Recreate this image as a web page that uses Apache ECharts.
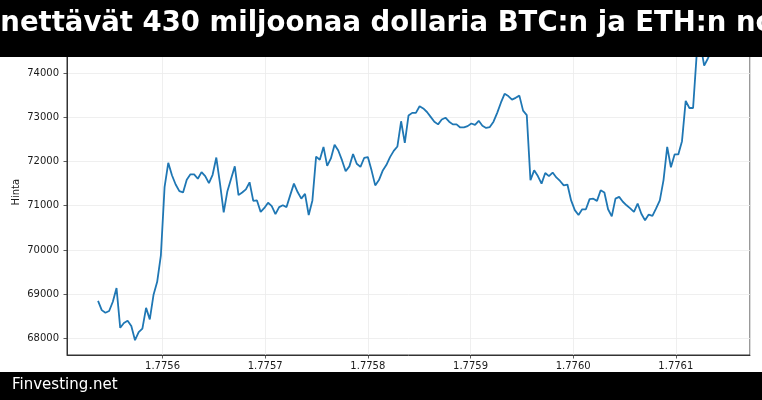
<!DOCTYPE html>
<html>
<head>
<meta charset="utf-8">
<script src="https://cdn.jsdelivr.net/npm/echarts@6/dist/echarts.min.js"></script>
<style>
html,body{margin:0;padding:0;background:#fff;}
#chart{width:762px;height:400px;}
</style>
</head>
<body>
<div id="chart"></div>
<script>
const titleText = "menettävät 430 miljoonaa dollaria BTC:n ja ETH:n nousussa";
const sourceText = "Finvesting.net";
const yAxisName = "Hinta";
const startTime = 1775537200;
const stepSeconds = 3600;
const prices = [
68850,68640,68580,68620,68830,69140,68240,68350,68400,68280,
67960,68140,68220,68690,68430,68980,69280,69880,71420,71970,
71690,71480,71330,71300,71590,71710,71710,71610,71760,71670,
71510,71700,72090,71500,70850,71330,71610,71890,71240,71300,
71370,71530,71110,71120,70860,70950,71070,70990,70810,70970,
71010,70970,71240,71500,71310,71160,71270,70790,71120,72110,
72040,72330,71900,72070,72380,72250,72030,71780,71890,72170,
71950,71880,72080,72100,71800,71460,71580,71790,71920,72100,
72240,72340,72910,72420,73040,73100,73100,73250,73200,73120,
73010,72900,72840,72950,72990,72900,72840,72840,72770,72770,
72800,72860,72830,72920,72810,72760,72780,72900,73100,73330,
73530,73480,73400,73440,73490,73150,73050,71580,71800,71670,
71500,71740,71670,71750,71640,71560,71460,71480,71120,70900,
70790,70920,70920,71150,71160,71110,71350,71300,70920,70760,
71160,71200,71090,71010,70940,70860,71050,70820,70670,70800,
70770,70940,71120,71580,72330,71870,72160,72160,72460,73370,
73210,73210,74450,74650,74170,74330,74500,74600,74370
];

const seriesData = prices.map((p, i) => [startTime + i * stepSeconds, p]);

const chart = echarts.init(document.getElementById('chart'), null, {renderer: 'canvas'});
const fontFamily = "DejaVu Sans";
chart.setOption({
  animation: false,
  backgroundColor: '#ffffff',
  grid: {
    left: 67, right: 12, top: 29.5, bottom: 45,
    containLabel: false,
    outerBoundsMode: 'none',
    show: true, borderColor: '#333333', borderWidth: 1, backgroundColor: 'transparent'
  },
  xAxis: {
    type: 'value',
    min: 1775506960,
    max: 1776172240,
    minInterval: 100000,
    maxInterval: 100000,
    axisLine: {show: true, lineStyle: {color: '#333333', width: 1}},
    axisTick: {show: true, length: 3.5, lineStyle: {color: '#333333', width: 0.8}},
    axisLabel: {
      fontFamily: fontFamily, fontSize: 10, color: '#1a1a1a', margin: 6,
      showMinLabel: false, showMaxLabel: false,
      formatter: v => (v / 1e9).toFixed(4)
    },
    splitLine: {show: true, lineStyle: {color: '#ebebeb', width: 0.8}}
  },
  yAxis: {
    type: 'value',
    min: 67625,
    max: 74985,
    minInterval: 1000,
    maxInterval: 1000,
    name: yAxisName,
    nameLocation: 'middle',
    nameGap: 46,
    nameMoveOverlap: false,
    nameTextStyle: {fontFamily: fontFamily, fontSize: 10, color: '#1a1a1a'},
    axisLine: {show: true, lineStyle: {color: '#333333', width: 1}},
    axisTick: {show: true, length: 3.5, lineStyle: {color: '#333333', width: 0.8}},
    axisLabel: {
      fontFamily: fontFamily, fontSize: 10, color: '#1a1a1a', margin: 8,
      showMinLabel: false, showMaxLabel: false,
      formatter: v => String(Math.round(v))
    },
    splitLine: {show: true, lineStyle: {color: '#ebebeb', width: 0.8}}
  },
  series: [{
    type: 'line',
    data: seriesData,
    showSymbol: false,
    smooth: false,
    lineStyle: {color: '#1f77b4', width: 1.8},
    itemStyle: {color: '#1f77b4'}
  }],
  graphic: [
    {type: 'rect', left: 0, top: 0, z: 100, shape: {x: 0, y: 0, width: 762, height: 57}, style: {fill: '#000000'}},
    {type: 'text', x: -47, y: 24, z: 101, style: {text: titleText, fill: '#ffffff', font: "bold 27.5px 'DejaVu Sans'", textAlign: 'left', textVerticalAlign: 'middle'}},
    {type: 'rect', left: 0, top: 372, z: 100, shape: {x: 0, y: 0, width: 762, height: 28}, style: {fill: '#000000'}},
    {type: 'text', x: 12, y: 385.5, z: 101, style: {text: sourceText, fill: '#ffffff', font: "15px 'DejaVu Sans'", textAlign: 'left', textVerticalAlign: 'middle'}}
  ]
});
</script>
</body>
</html>
